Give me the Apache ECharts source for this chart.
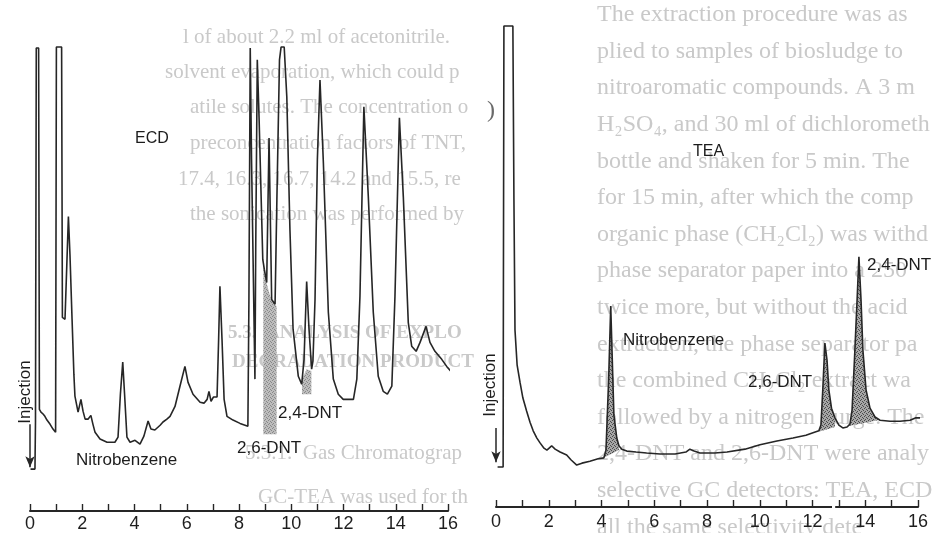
<!DOCTYPE html>
<html>
<head>
<meta charset="utf-8">
<script src="https://cdn.jsdelivr.net/npm/echarts@6/dist/echarts.min.js"></script>
<style>
  html, body { margin: 0; padding: 0; background: #ffffff; }
  #chart { width: 934px; height: 533px; }
</style>
</head>
<body>
<div id="chart"></div>
<script>
// ECD chromatogram: retention time (min) and detector response (arbitrary units)
const ecdTime = [0.02,0.19,0.21,0.24,0.33,0.36,0.42,0.50,0.57,0.65,0.77,0.88,0.98,1.01,1.21,1.24,1.34,1.47,1.53,1.61,1.68,1.72,1.84,1.95,2.03,2.11,2.22,2.33,2.41,2.49,2.68,2.95,3.25,3.37,3.46,3.55,3.62,3.71,3.83,4.02,4.21,4.36,4.52,4.63,4.78,4.98,5.09,5.24,5.36,5.55,5.74,5.93,6.05,6.24,6.51,6.66,6.78,6.85,6.93,7.02,7.16,7.22,7.27,7.35,7.43,7.54,7.77,8.04,8.34,8.38,8.43,8.48,8.61,8.64,8.70,8.77,8.91,8.97,9.01,9.06,9.15,9.25,9.38,9.45,9.55,9.61,9.73,9.83,9.95,10.07,10.27,10.40,10.49,10.59,10.68,10.78,10.83,10.91,11.00,11.10,11.23,11.42,11.61,11.80,11.99,12.38,12.51,12.63,12.78,12.95,13.14,13.33,13.52,13.68,13.85,13.97,14.14,14.29,14.48,14.61,14.78,14.93,15.16,15.31,15.50,15.76,15.95,16.15];
const ecdSignal = [8.9,8.9,18.9,98.3,98.3,21.6,21.0,20.6,20.1,19.3,18.4,17.4,16.7,98.5,98.5,41.1,40.7,62.5,54.4,40.7,29.0,24.4,21.0,23.7,21.2,19.5,19.5,20.3,18.4,16.7,15.3,14.6,14.6,15.7,24.8,31.6,24.8,15.7,14.6,15.0,14.2,15.9,19.1,17.4,17.2,18.2,18.9,19.5,20.1,22.2,26.5,30.7,27.3,24.8,23.1,22.9,23.7,25.4,23.3,24.2,24.2,36.4,47.7,36.4,23.7,20.1,19.3,18.6,18.0,44.9,98.3,74.6,28.0,55.5,95.8,83.1,53.4,51.3,51.7,48.5,79.2,44.9,43.9,66.1,95.8,98.5,98.5,87.9,59.7,38.6,28.6,26.9,32.2,48.7,38.6,30.1,31.8,44.9,74.6,91.5,73.9,42.2,28.0,24.8,23.7,23.7,28.0,45.6,85.8,66.7,42.2,28.6,25.4,24.8,26.5,45.6,83.5,66.7,40.0,35.0,33.9,35.8,39.2,35.8,33.9,32.2,30.7,29.4];

// TEA chromatogram: retention time (min) and detector response (arbitrary units)
const teaTime = [0.06,0.27,0.28,0.30,0.64,0.68,0.72,0.80,0.91,1.02,1.16,1.29,1.41,1.55,1.67,1.82,1.93,2.11,2.24,2.43,2.68,2.84,3.06,3.26,3.56,3.87,4.09,4.17,4.27,4.35,4.42,4.47,4.58,4.66,4.77,4.96,5.31,5.71,6.22,6.79,7.20,7.35,7.51,7.73,8.30,8.76,9.44,10.01,10.65,11.26,11.75,12.02,12.24,12.32,12.39,12.47,12.55,12.62,12.72,12.85,13.00,13.15,13.31,13.42,13.50,13.59,13.69,13.76,13.84,13.91,14.03,14.18,14.37,14.56,14.94,15.32,15.70,15.92,16.11];
const teaSignal = [8.3,8.3,42.9,99.8,99.8,63.7,36.7,29.5,25.9,22.6,19.9,17.6,15.8,14.3,13.3,12.2,11.8,12.7,12.0,11.4,10.8,9.8,8.7,9.1,9.5,10.0,10.2,11.8,26.3,41.7,28.4,19.1,14.3,12.7,12.0,11.6,11.4,11.2,11.0,11.0,11.4,12.0,11.6,11.2,11.2,11.4,12.0,12.9,13.7,14.3,14.9,15.4,15.8,17.0,24.3,34.0,30.5,24.3,20.5,18.5,17.0,16.4,16.6,17.2,20.1,30.5,42.9,51.9,42.9,32.6,24.3,20.5,18.7,18.0,17.8,17.8,18.0,18.5,18.5];

// Time axis ticks (min)
const timeTicks = [0, 2, 4, 6, 8, 10, 12, 14, 16];

// Shaded ECD peak areas: time, upper edge, lower edge
const ecdShadeTime = [[8.93, 9.07, 9.23, 9.44], [10.41, 10.59, 10.77]];
const ecdShadeTop = [[52.3, 48.1, 44.9, 43.4], [28.0, 30.1, 29.7]];
const ecdShadeBase = [16.3, 24.8];

// Shaded TEA peaks (nitrobenzene, 2,6-DNT, 2,4-DNT): time window and baseline at each end
const teaShadeFrom = [4.09, 12.24, 13.38];
const teaShadeTo = [4.66, 12.85, 14.48];
const teaShadeBaseFrom = [10.2, 15.6, 16.8];
const teaShadeBaseTo = [11.8, 16.6, 18.0];

// Injection marker (start and tip of the arrow, response units)
const ecdInjection = [18.4, 9.3];
const teaInjection = [16.4, 9.3];

function interp(times, values, t) {
  for (let i = 1; i < times.length; i++) {
    if (times[i] >= t) {
      const f = (t - times[i - 1]) / (times[i] - times[i - 1]);
      return values[i - 1] + f * (values[i] - values[i - 1]);
    }
  }
  return values[values.length - 1];
}

// Polygons for the shaded peaks
const ecdPolys = ecdShadeTime.map((ts, k) => {
  const top = ts.map((t, i) => [t, ecdShadeTop[k][i]]);
  return top.concat([[ts[ts.length - 1], ecdShadeBase[k]], [ts[0], ecdShadeBase[k]]]);
});
const teaPolys = teaShadeFrom.map((t0, k) => {
  const t1 = teaShadeTo[k];
  const pts = [[t0, interp(teaTime, teaSignal, t0)]];
  teaTime.forEach((t, i) => { if (t > t0 && t < t1) pts.push([t, teaSignal[i]]); });
  pts.push([t1, interp(teaTime, teaSignal, t1)]);
  pts.push([t1, teaShadeBaseTo[k]]);
  pts.push([t0, teaShadeBaseFrom[k]]);
  return pts;
});

function stipple(bg, dot) {
  const c = document.createElement('canvas');
  c.width = 4; c.height = 4;
  const g = c.getContext('2d');
  g.fillStyle = bg; g.fillRect(0, 0, 4, 4);
  g.fillStyle = dot;
  g.fillRect(0, 0, 1, 1); g.fillRect(2, 1, 1, 1); g.fillRect(1, 3, 1, 1); g.fillRect(3, 2, 1, 1);
  return c;
}
const lightStipple = { image: stipple('#bdbdbd', '#888888'), repeat: 'repeat' };
const darkStipple = { image: stipple('#a6a6a6', '#4a4a4a'), repeat: 'repeat' };

const ink = '#262626';
const labelFont = 'Liberation Sans, Arial, sans-serif';

function timeAxis(gridIndex, margin) {
  return {
    type: 'value', gridIndex: gridIndex, min: 0, max: 16, interval: 1,
    axisLine: { show: true, lineStyle: { color: ink, width: 2 } },
    axisTick: { show: true, inside: true, length: 7, lineStyle: { color: ink, width: 1.4 } },
    splitLine: { show: false },
    axisLabel: {
      show: true, margin: margin, color: '#1e1e1e', fontSize: 18, fontFamily: labelFont,
      formatter: v => (timeTicks.indexOf(v) >= 0 ? String(v) : '')
    }
  };
}
function signalAxis(gridIndex) {
  return { type: 'value', gridIndex: gridIndex, min: 0, max: 100, show: false };
}
function trace(times, values, idx, inj) {
  return {
    type: 'line', xAxisIndex: idx, yAxisIndex: idx, z: 3,
    data: times.map((t, i) => [t, values[i]]),
    showSymbol: false, clip: false, smooth: false,
    lineStyle: { color: ink, width: 1.6 },
    markLine: {
      silent: true, symbol: ['none', 'arrow'], symbolSize: [7, 11],
      lineStyle: { color: ink, width: 1.5, type: 'solid' },
      label: { show: false },
      data: [[{ coord: [0, inj[0]] }, { coord: [0, inj[1]] }]]
    }
  };
}
function shades(polys, idx, fill) {
  return {
    type: 'custom', xAxisIndex: idx, yAxisIndex: idx, z: 2,
    data: polys.map((p, i) => i),
    renderItem: (params, api) => ({
      type: 'polygon',
      shape: { points: polys[params.dataIndex].map(p => api.coord(p)) },
      style: { fill: fill, stroke: null }
    })
  };
}

// Faint text from the printed page behind the figure
const pageFont = 'Liberation Serif, DejaVu Serif, serif';
const pageInk = '#c9c9c9';
const leftPage = [
  ['l of about 2.2 ml of acetonitrile. Thi', 183, 37, 21],
  ['solvent evaporation, which could p', 165, 72, 21],
  ['atile solutes. The concentration o', 190, 107, 21],
  ['preconcentration factors of TNT, 2,', 190, 143, 21],
  ['17.4, 16.3, 16.7, 14.2 and 15.5, resp', 178, 179, 21],
  ['the sonication was performed by H', 190, 214, 21],
  ['5.3.  ANALYSIS OF EXPLOSI', 228, 333, 19],
  ['DEGRADATION PRODUCTS E', 232, 362, 19],
  ['5.3.1.  Gas Chromatography-M', 245, 453, 21],
  ['GC-TEA was used for the deter', 258, 497, 21]
];
const rightPage = [
  'The extraction procedure was as',
  'plied to samples of biosludge to',
  'nitroaromatic compounds. A 3 m',
  'H\u2082SO\u2084, and 30 ml of dichlorometh',
  'bottle and shaken for 5 min. The',
  'for 15 min, after which the comp',
  'organic phase (CH\u2082Cl\u2082) was withd',
  'phase separator paper into a 250',
  'twice more, but without the acid',
  'extraction, the phase separator pa',
  'the combined CH\u2082Cl\u2082 extract wa',
  'followed by a nitrogen purge. The',
  '2,4-DNT and 2,6-DNT were analy',
  'selective GC detectors: TEA, ECD',
  'all the same selectivity dete'
];
const pageText = [];
leftPage.forEach(([s, x, y, size], i) => pageText.push({
  type: 'text', x: x, y: y, z: -10, silent: true,
  style: {
    text: s, fill: pageInk, fontFamily: pageFont,
    fontSize: size, fontWeight: (i === 6 || i === 7) ? 'bold' : 'normal',
    verticalAlign: 'middle', width: 470 - x, overflow: 'truncate', ellipsis: ''
  }
}));
rightPage.forEach((s, i) => pageText.push({
  type: 'text', x: 597, y: 15 + i * 36.6, z: -10, silent: true,
  style: {
    text: s, fill: pageInk, fontFamily: pageFont, fontSize: 24,
    verticalAlign: 'middle', width: 934 - 597, overflow: 'truncate', ellipsis: ''
  }
}));
pageText.push({ type: 'text', x: 487, y: 111, z: -10, silent: true,
  style: { text: ')', fill: '#6a6a6a', fontFamily: pageFont, fontSize: 24, verticalAlign: 'middle' } });

function label(text, x, y, size, rotate) {
  return {
    type: 'text', x: x, y: y, z: 20, rotation: rotate || 0, silent: true,
    style: { text: text, fill: '#1c1c1c', fontFamily: labelFont, fontSize: size,
      align: rotate ? 'center' : 'left', verticalAlign: 'middle' }
  };
}
const labels = [
  label('ECD', 135, 139, 16),
  label('Nitrobenzene', 76, 460, 17),
  label('2,6-DNT', 237, 448, 17),
  label('2,4-DNT', 278, 413, 17),
  label('Injection', 25, 392, 17, Math.PI / 2),
  label('TEA', 693, 152, 16),
  label('Nitrobenzene', 623, 340, 17),
  label('2,6-DNT', 748, 382, 17),
  label('2,4-DNT', 867, 265, 17),
  label('Injection', 490, 385, 17, Math.PI / 2)
];

const chart = echarts.init(document.getElementById('chart'), null, { renderer: 'canvas' });
chart.setOption({
  animation: false,
  backgroundColor: '#ffffff',
  grid: [
    { left: 30, right: 486, top: 40, bottom: 21 },
    { left: 496, right: 16, top: 25, bottom: 26 }
  ],
  xAxis: [timeAxis(0, 4), timeAxis(1, 6)],
  yAxis: [signalAxis(0), signalAxis(1)],
  series: [
    shades(ecdPolys, 0, lightStipple),
    shades(teaPolys, 1, darkStipple),
    trace(ecdTime, ecdSignal, 0, ecdInjection),
    trace(teaTime, teaSignal, 1, teaInjection)
  ],
  graphic: pageText.concat(labels)
});

// Short break in the TEA time axis between 12 and 13 min
const gapA = chart.convertToPixel({ gridIndex: 1 }, [12.74, 0]);
const gapB = chart.convertToPixel({ gridIndex: 1 }, [12.86, 0]);
chart.setOption({
  graphic: pageText.concat(labels).concat([{
    type: 'rect', z: 30, silent: true,
    shape: { x: gapA[0], y: gapA[1] - 3, width: gapB[0] - gapA[0], height: 6 },
    style: { fill: '#ffffff' }
  }])
});
</script>
</body>
</html>
